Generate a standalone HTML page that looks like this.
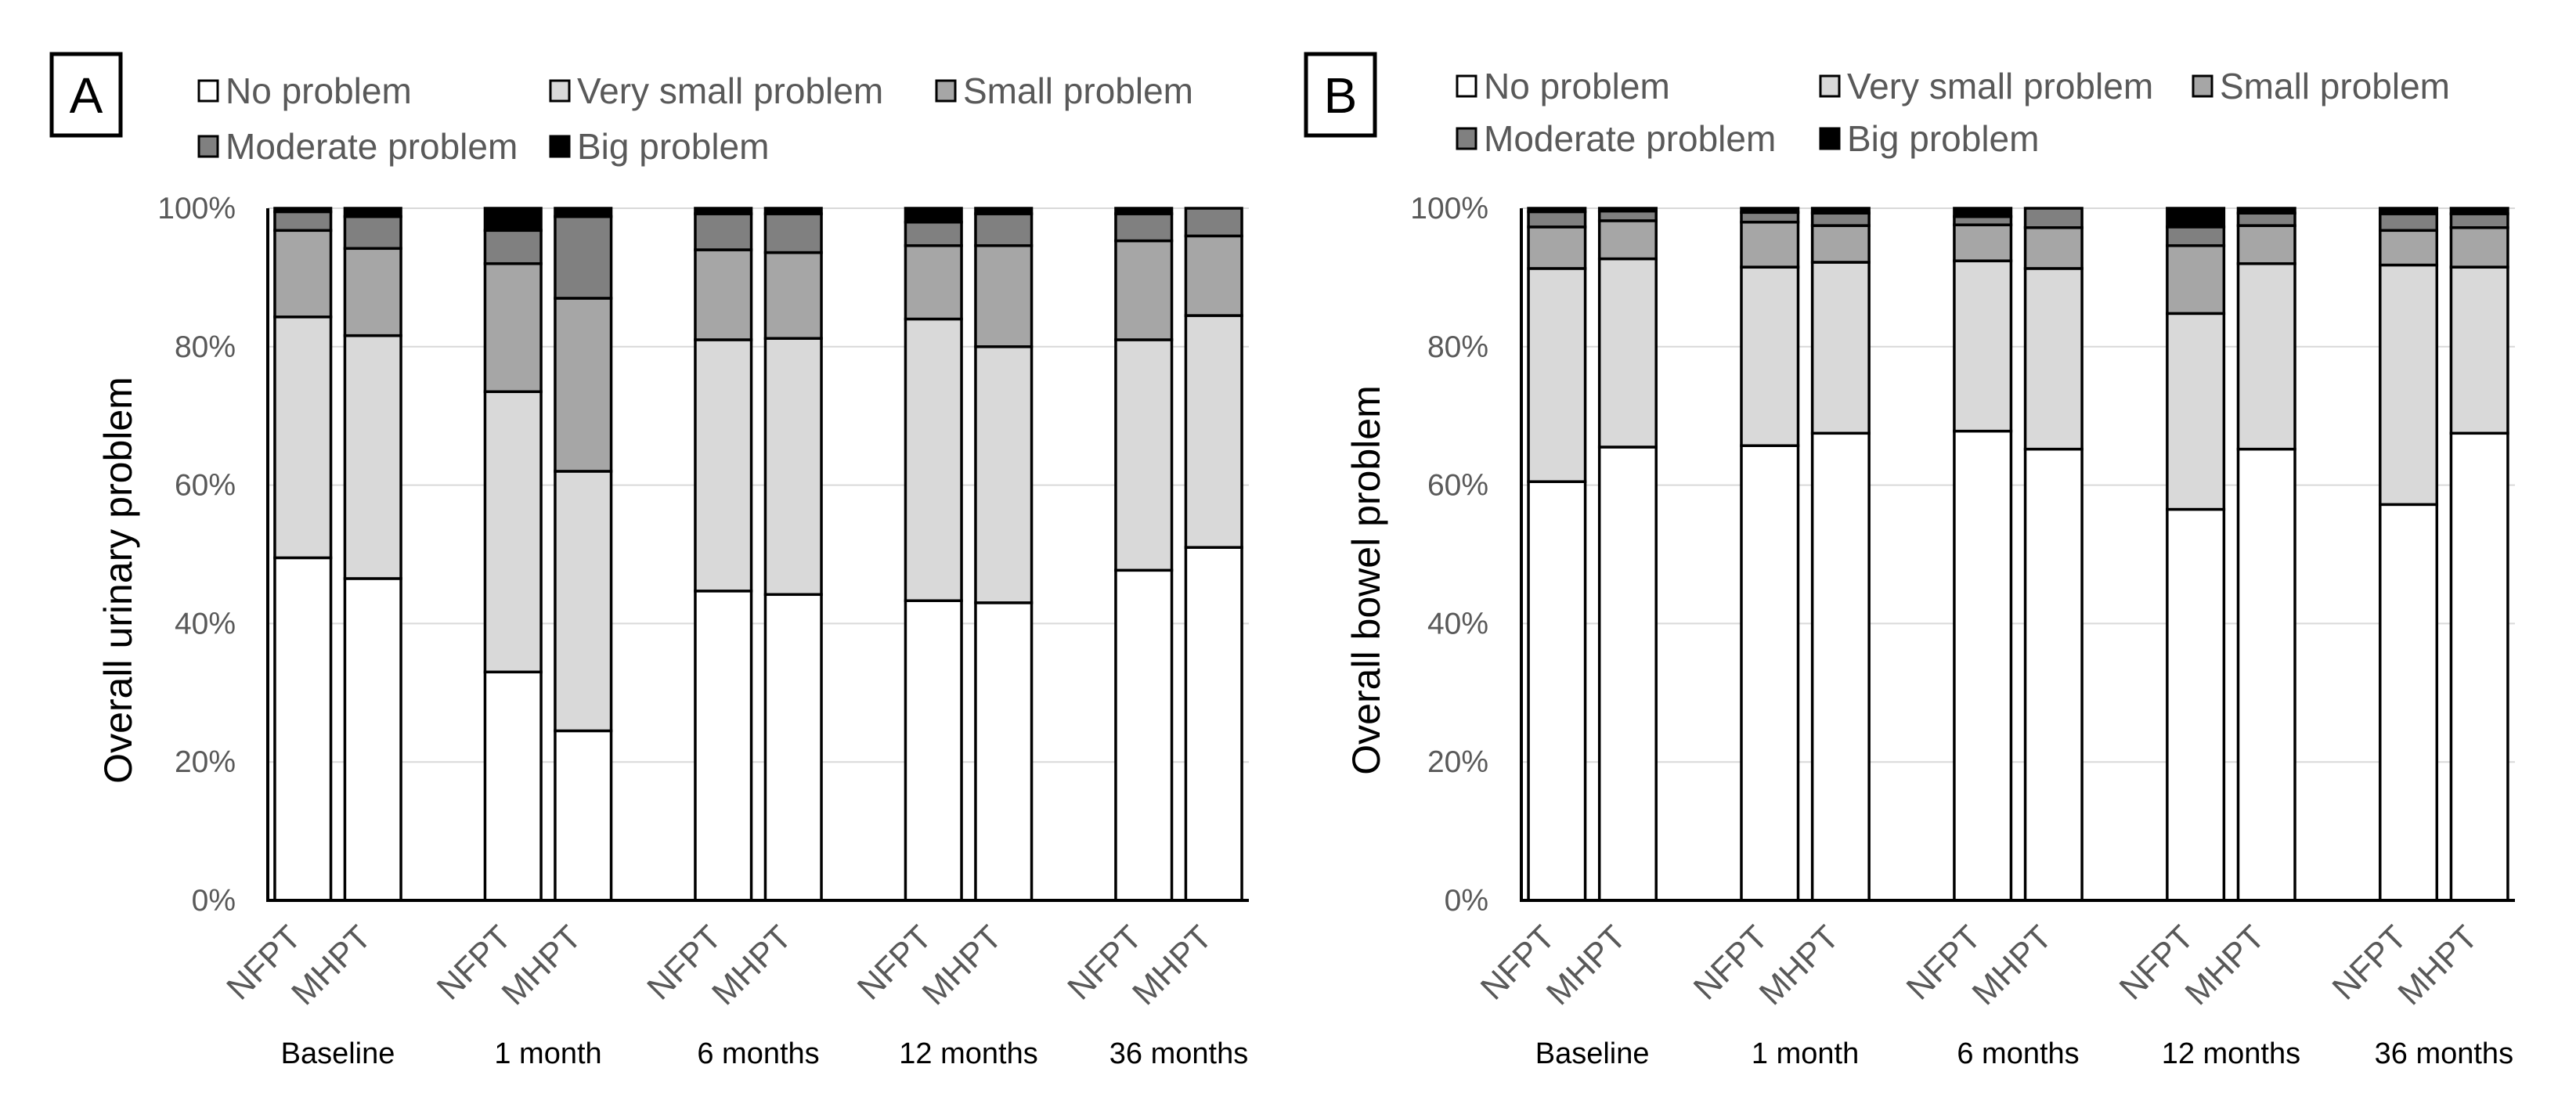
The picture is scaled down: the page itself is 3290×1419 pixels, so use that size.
<!DOCTYPE html>
<html><head><meta charset="utf-8"><style>
html,body{margin:0;padding:0;background:#fff;}
svg{display:block;font-family:"Liberation Sans",Arial,sans-serif;}
</style></head><body>
<svg id="chart" width="3290" height="1419" viewBox="0 0 3290 1419" xmlns="http://www.w3.org/2000/svg"></svg>
<script>
const categories = ["NFPT","MHPT","NFPT","MHPT","NFPT","MHPT","NFPT","MHPT","NFPT","MHPT"];
const groups = ["Baseline","1 month","6 months","12 months","36 months"];
const seriesNames = ["No problem","Very small problem","Small problem","Moderate problem","Big problem"];
const yTicks = [0,20,40,60,80,100];
const yTickLabels = ["0%","20%","40%","60%","80%","100%"];
// Panel A (urinary), per series percentages per bar
const aNo    = [49.5,46.5,33.0,24.5,44.7,44.2,43.3,43.0,47.7,51.0];
const aVery  = [34.8,35.1,40.5,37.5,36.3,37.0,40.7,37.0,33.3,33.5];
const aSmall = [12.5,12.6,18.5,25.0,13.0,12.4,10.6,14.6,14.3,11.5];
const aMod   = [2.7,4.6,4.8,11.8,5.2,5.6,3.4,4.6,3.9,4.0];
const aBig   = [0.5,1.2,3.2,1.2,0.8,0.8,2.0,0.8,0.8,0.0];
// Panel B (bowel)
const bNo    = [60.5,65.5,65.7,67.5,67.8,65.2,56.5,65.2,57.2,67.5];
const bVery  = [30.8,27.2,25.8,24.7,24.6,26.1,28.3,26.8,34.6,24.0];
const bSmall = [6.0,5.5,6.5,5.3,5.2,5.9,9.8,5.5,5.0,5.7];
const bMod   = [2.2,1.4,1.4,1.8,1.2,2.8,2.7,1.8,2.4,2.0];
const bBig   = [0.5,0.4,0.6,0.7,1.2,0.0,2.7,0.7,0.8,0.8];

const fills = ["#ffffff","#d9d9d9","#a6a6a6","#808080","#000000"];
const svg = document.getElementById('chart');
const NS = "http://www.w3.org/2000/svg";
function mk(tag, attrs, parent){const e=document.createElementNS(NS,tag);for(const k in attrs)e.setAttribute(k,attrs[k]);(parent||svg).appendChild(e);return e;}

function panel(cfg){
  const g = mk('g',{});
  
  
  const top=266, bot=1150;
  const y = v => bot - (v/100)*(bot-top);
  const slot = (cfg.x1-cfg.x0)/14;
  const xc = i => cfg.x0 + slot*(Math.floor(i/2)*3 + (i%2) + 0.5);
  const box = mk('rect',{x:cfg.boxX,y:69,width:88,height:104,fill:'none',stroke:'#000','stroke-width':5},g);
  
  
  const lt = mk('text',{x:cfg.boxX+44,y:144,'font-size':64,'text-anchor':'middle',fill:'#000'},g);
  lt.textContent = cfg.letter;
  
  
  cfg.legend.forEach((p,i)=>{
    const lg = mk('g',{},g);
    
    
    mk('rect',{x:p[0],y:p[1]-29,width:24,height:26,fill:fills[i],stroke:'#000','stroke-width':3},lg);
    const t = mk('text',{x:p[0]+34,y:p[1],'font-size':46,fill:'#595959'},lg);
    t.textContent = seriesNames[i];
  });
  yTicks.forEach((v,i)=>{
    if(v>0){
      const gl = mk('line',{x1:cfg.x0,x2:cfg.x1,y1:y(v),y2:y(v),stroke:'#d9d9d9','stroke-width':2},g);
      
      
    }
    const t = mk('text',{x:cfg.tickX,y:y(v)+13,'font-size':39,'text-anchor':'end',fill:'#595959'},g);
    t.textContent = yTickLabels[i];
    
    
  });
  const series = cfg.data;
  categories.forEach((c,i)=>{
    let cum = 0;
    const bw = slot*0.8;
    const bg = mk('g',{},g);
    
    
    series.forEach((s,k)=>{
      const v = s[i];
      if(v<=0) return;
      const r = mk('rect',{x:xc(i)-bw/2,y:y(cum+v),width:bw,height:y(cum)-y(cum+v),fill:fills[k],stroke:'#000','stroke-width':3.5},bg);
      
      
      cum += v;
    });
    const xl = mk('text',{'font-size':43,'text-anchor':'end',fill:'#595959',transform:`translate(${xc(i)},1200) rotate(-45)`},g);
    xl.textContent = c;
    
    
  });
  groups.forEach((gn,j)=>{
    const t = mk('text',{x:(xc(2*j)+xc(2*j+1))/2,y:1358,'font-size':38,'text-anchor':'middle',fill:'#000'},g);
    t.textContent = gn;
    
    
  });
  const ax = mk('path',{d:`M${cfg.x0},${top} V${bot} H${cfg.x1}`,fill:'none',stroke:'#000','stroke-width':4},g);
  
  
  const yt = mk('text',{'font-size':50,'text-anchor':'middle',fill:'#000',transform:`translate(${cfg.titleX},741) rotate(-90)`},g);
  yt.textContent = cfg.title;
  
  
}

panel({letter:'A',boxX:66,x0:342,x1:1595,tickX:301,titleX:168,title:'Overall urinary problem',
  data:[aNo,aVery,aSmall,aMod,aBig],
  legend:[[254,132],[703,132],[1196,132],[254,203],[703,203]]});
panel({letter:'B',boxX:1668,x0:1943,x1:3212,tickX:1901,titleX:1762,title:'Overall bowel problem',
  data:[bNo,bVery,bSmall,bMod,bBig],
  legend:[[1861,126],[2325,126],[2801,126],[1861,193],[2325,193]]});
</script>
</body></html>
